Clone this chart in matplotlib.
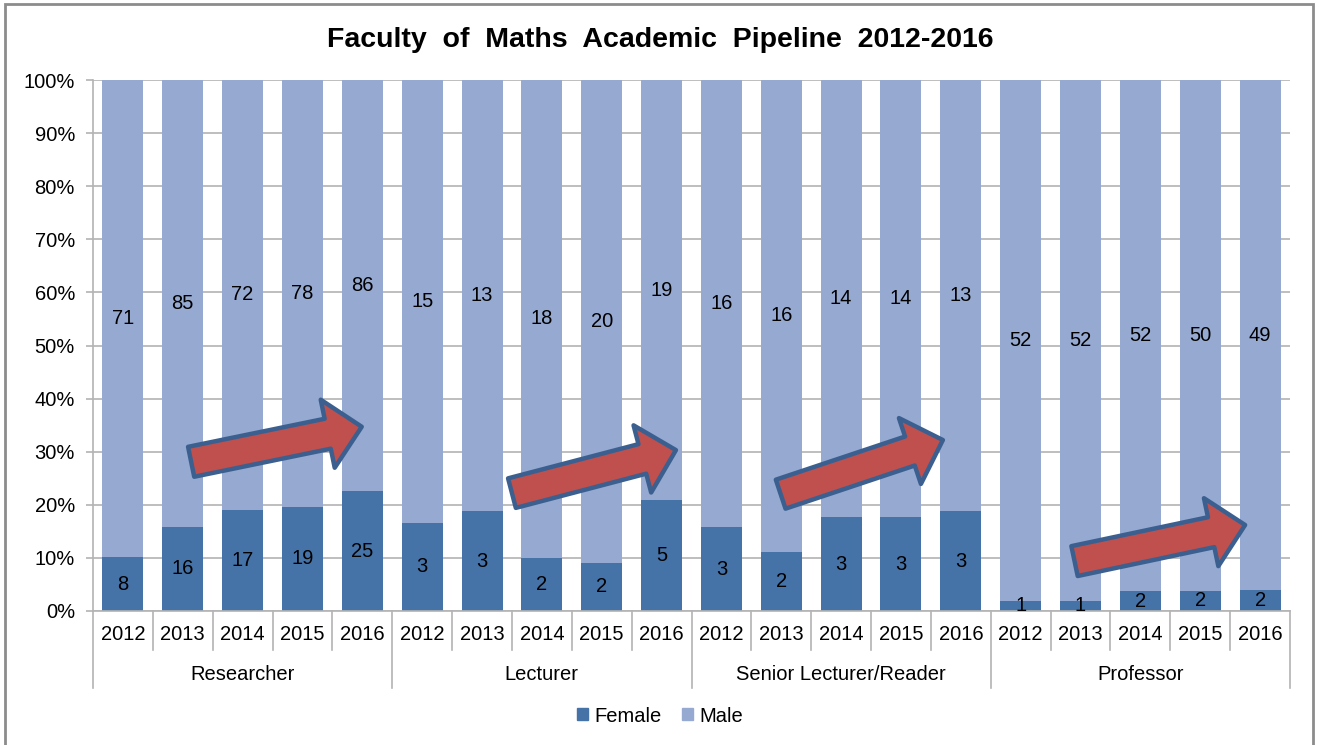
import numpy as np
import matplotlib
matplotlib.use("Agg")
import matplotlib.pyplot as plt
from matplotlib.patches import Patch, Rectangle
from matplotlib.transforms import blended_transform_factory

plt.rcParams['font.family'] = ['Liberation Sans', 'DejaVu Sans']

# data
groups = ["Researcher", "Lecturer", "Senior Lecturer/Reader", "Professor"]
years = ["2012", "2013", "2014", "2015", "2016"]
female = [8, 16, 17, 19, 25,
          3, 3, 2, 2, 5,
          3, 2, 3, 3, 3,
          1, 1, 2, 2, 2]
male = [71, 85, 72, 78, 86,
        15, 13, 18, 20, 19,
        16, 16, 14, 14, 13,
        52, 52, 52, 50, 49]

# arrows (tail -> tip) in bar index / percent units
arrows = [((1.14, 28.1), (3.99, 34.7)),
          ((6.50, 22.2), (9.24, 30.3)),
          ((10.99, 22.0), (13.70, 32.2)),
          ((15.90, 9.4), (18.75, 16.2))]

c_female = "#4572A7"
c_male = "#95A9D1"
grid_c = "#B3B3B3"
fs = 14.5

female = np.array(female, dtype=float)
male = np.array(male, dtype=float)
total = female + male
f_pct = female / total * 100
m_pct = male / total * 100
x = np.arange(len(female))

fig = plt.figure(figsize=(13.2, 7.45), dpi=100)
ax = fig.add_axes([93 / 1320, 1 - 611 / 745, (1290 - 93) / 1320, (611 - 80) / 745])

ax.bar(x, f_pct, width=0.685, color=c_female, zorder=2)
ax.bar(x, m_pct, bottom=f_pct, width=0.685, color=c_male, zorder=2)

for i in x:
    ax.text(i, f_pct[i] / 2, f"{int(female[i])}", ha="center", va="center",
            fontsize=fs, zorder=4)
    ax.text(i, f_pct[i] + m_pct[i] / 2, f"{int(male[i])}", ha="center",
            va="center", fontsize=fs, zorder=4)

ax.set_xlim(-0.5, len(x) - 0.5)
ax.set_ylim(0, 100)
ax.set_yticks(np.arange(0, 101, 10))
ax.set_yticklabels([f"{v}%" for v in range(0, 101, 10)], fontsize=fs)
ax.yaxis.grid(True, color=grid_c, linewidth=1.2, zorder=0)
ax.tick_params(axis="y", length=5, color=grid_c, width=1.2, pad=8)
ax.set_xticks([])
for s in ["top", "right"]:
    ax.spines[s].set_visible(False)
for s in ["left", "bottom"]:
    ax.spines[s].set_color(grid_c)
    ax.spines[s].set_linewidth(1.2)

# two level category axis
tr = blended_transform_factory(ax.transData, ax.transAxes)
px = 1 / (611 - 80)
for i in x:
    ax.text(i, -24 * px, years[i % len(years)], transform=tr, ha="center",
            va="center", fontsize=fs)
for b in np.arange(-0.5, len(x), 1.0):
    depth = 77 if (b + 0.5) % len(years) == 0 else 39
    ax.plot([b, b], [0, -depth * px], transform=tr, color=grid_c,
            linewidth=1.2, clip_on=False)
for g, name in enumerate(groups):
    ax.text(g * len(years) + (len(years) - 1) / 2, -64 * px, name, transform=tr,
            ha="center", va="center", fontsize=fs)

for tail, tip in arrows:
    ax.annotate("", xy=tip, xytext=tail, zorder=5,
                arrowprops=dict(arrowstyle="simple,head_length=25,head_width=50,tail_width=22",
                                mutation_scale=1, shrinkA=0, shrinkB=0,
                                facecolor="#C0504D", edgecolor="#3B6090",
                                linewidth=3.2))

fig.suptitle("Faculty  of  Maths  Academic  Pipeline  2012-2016", x=0.5,
             y=1 - 40 / 745, va="center", fontsize=20.5, fontweight="bold")

fig.legend(handles=[Patch(color=c_female, label="Female"),
                    Patch(color=c_male, label="Male")],
           loc="center", bbox_to_anchor=(0.5, 1 - 716 / 745), ncol=2,
           frameon=False, fontsize=fs, handlelength=0.55, handleheight=0.55,
           handletextpad=0.3, columnspacing=1.0)

fig.patches.append(Rectangle((5 / 1320, -0.01), 1308 / 1320, 1 - 4 / 745 + 0.01,
                             transform=fig.transFigure, fill=False,
                             edgecolor="#8C8C8C", linewidth=2))

fig.savefig("out.png", dpi=100)
